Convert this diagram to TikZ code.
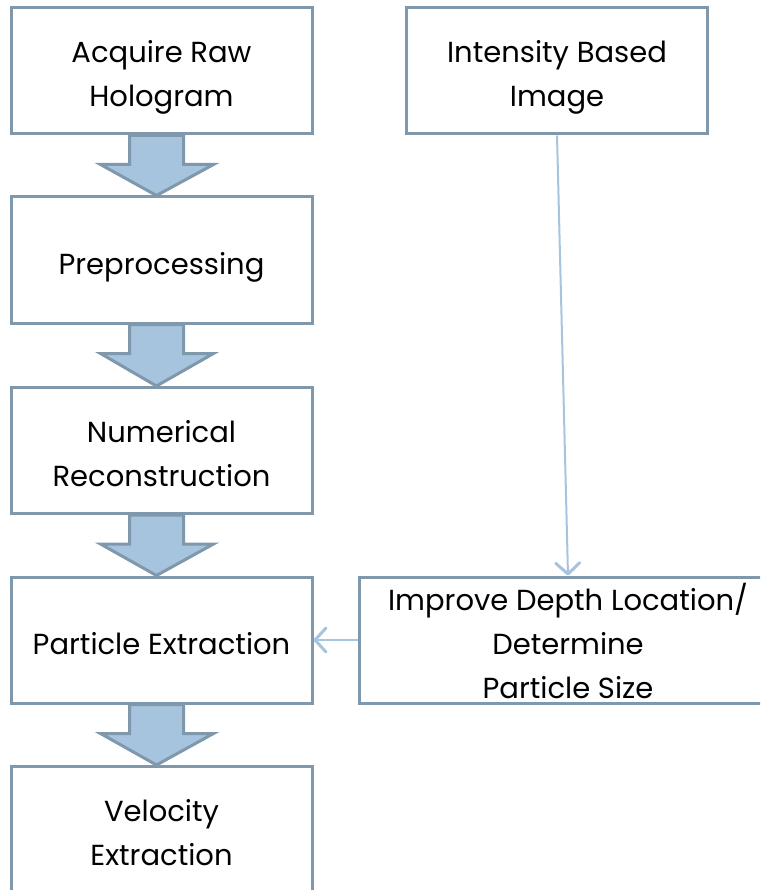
\documentclass[tikz,border=0pt]{standalone}
\usepackage{fontspec}
\setmainfont{Poppins}
\usetikzlibrary{calc,arrows.meta}
\definecolor{boxline}{RGB}{127,152,171}
\definecolor{arrfill}{RGB}{166,196,221}
\newcommand{\lstrut}{\rule[-8pt]{0pt}{44pt}}
\begin{document}
\begin{tikzpicture}[x=1pt,y=-1pt,
  box/.style={draw=boxline,line width=3pt,fill=white,minimum width=301pt,
    minimum height=126pt,align=center,inner sep=0pt,
    font=\fontsize{29}{44}\selectfont},
  blockarrow/.style={draw=boxline,fill=arrfill,line width=3pt,line join=miter},
  thin/.style={draw=arrfill,line width=2pt,
    -{Straight Barb[length=11pt,width=24pt,line width=3pt,line cap=round,line join=round]}}]
\useasboundingbox (0,0) rectangle (760,890);
\clip (0,0) rectangle (760,890);
\node[box] (b1) at (161.5,71) {\lstrut Acquire Raw\\\lstrut Hologram};
\node[box] (b2) at (161.5,260) {\lstrut Preprocessing};
\node[box] (b3) at (161.5,450.5) {\lstrut Numerical\\\lstrut Reconstruction};
\node[box] (b4) at (161.5,640) {\lstrut Particle Extraction};
\node[box] (b5) at (161.5,829.5) {\lstrut Velocity\\\lstrut Extraction};
\node[box] (ib) at (557,71) {\lstrut Intensity Based\\\lstrut Image};
\node[box,minimum width=418pt,inner ysep=-3pt] (imp) at (568,640) {\lstrut Improve Depth Location/\\\lstrut Determine\\\lstrut Particle Size};
\foreach \a/\b in {b1/b2,b2/b3,b3/b4,b4/b5}{
  \draw[blockarrow] ($(\a.south)+(-32,0)$) -- ($(\a.south)+(22,0)$)
    -- ($(\a.south)+(22,29)$) -- ($(\a.south)+(52,29)$)
    -- ($(\b.north)+(-5,0)$) -- ($(\a.south)+(-61,29)$)
    -- ($(\a.south)+(-32,29)$) -- cycle;
}
\draw[thin] (ib.south) -- (imp.north);
\draw[thin] (imp.west) -- (b4.east);
\end{tikzpicture}
\end{document}
